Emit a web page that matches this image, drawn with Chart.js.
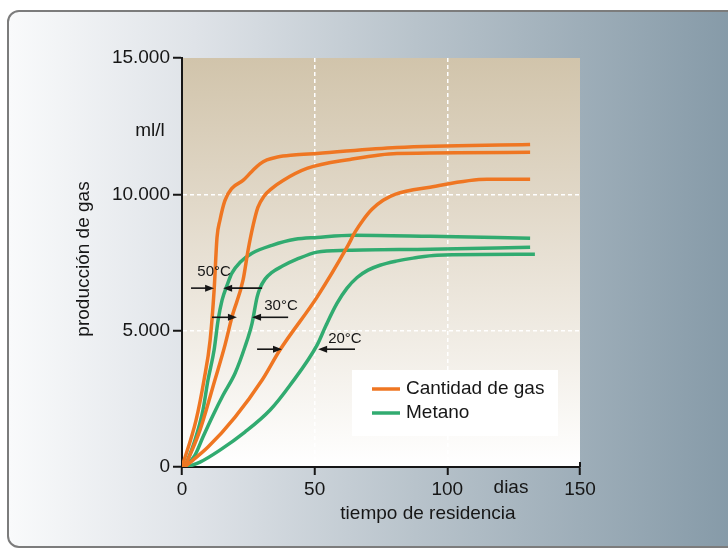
<!DOCTYPE html>
<html>
<head>
<meta charset="utf-8">
<script src="https://cdn.jsdelivr.net/npm/chart.js@4"></script>
<style>
  html, body { margin:0; padding:0; background:#fff; width:728px; height:550px; overflow:hidden }
  .frame { position:absolute; left:7px; top:10px; width:740px; height:534px; border:2px solid #7c7c7c; border-radius:12px;
           background:linear-gradient(to right, #f9fafb 0%, #dfe3e8 25%, #b8c3cb 55%, #8398a6 100%) }
  canvas { position:absolute; left:0; top:0 }
</style>
</head>
<body>
<div class="frame"></div>
<canvas id="chart" width="728" height="550"></canvas>
<script>
// gas production curves (days, ml/l)
const gas50Days = [0, 5.3, 8.3, 10.6, 12.1, 13.2, 14.3, 16.2, 18.8, 23, 26.4, 29.4, 32, 36, 42, 50.9, 81, 131.2];
const gas50     = [0, 1720, 3190, 4650, 6480, 8420, 9050, 9780, 10220, 10510, 10850, 11120, 11260, 11370, 11440, 11500, 11720, 11830];
const gas30Days = [1.1, 6.8, 12.4, 16.2, 18.8, 23, 24.9, 26.8, 28.6, 30.9, 33.9, 38.1, 47.1, 63.3, 81, 131.2];
const gas30     = [0, 1360, 3190, 4470, 5490, 6850, 7950, 8860, 9520, 9930, 10220, 10510, 10950, 11280, 11500, 11540];
const gas20Days = [1, 9.8, 20, 30.2, 36.9, 50.9, 62.2, 65.2, 68.2, 71.6, 75.8, 80.3, 93.5, 115, 131.2];
const gas20     = [0, 730, 1830, 3190, 4290, 6230, 8060, 8610, 9050, 9450, 9780, 10000, 10260, 10550, 10550];

// methane curves
const met50Days = [1.1, 4.9, 7.9, 9.8, 12.1, 13.6, 15.1, 17, 18.8, 21.9, 26.4, 33.9, 42.6, 50.9, 64.5, 93.5, 131.2];
const met50     = [0, 990, 2090, 3190, 4290, 5380, 6120, 6670, 7110, 7510, 7840, 8130, 8350, 8420, 8500, 8460, 8390];
const met30Days = [1.1, 4.9, 7.9, 11.7, 15.5, 20, 23.7, 26.4, 28.3, 29.4, 31.3, 33.9, 37.7, 43.3, 50.9, 62.2, 93.5, 131.2];
const met30     = [0, 440, 1100, 1900, 2640, 3440, 4400, 5270, 6230, 6560, 6890, 7140, 7360, 7620, 7880, 7950, 7990, 8060];
const met20Days = [1.9, 6.8, 14.3, 23.7, 33.2, 40.7, 50.9, 54.3, 58.4, 62.2, 66, 70.1, 74.6, 80.7, 87.1, 96.1, 133];
const met20     = [0, 180, 620, 1280, 2090, 3000, 4470, 5200, 6000, 6560, 6950, 7220, 7400, 7550, 7660, 7770, 7800];

const legendLabels = ['Cantidad de gas', 'Metano'];
const yTickValues = [0, 5000, 10000, 15000];
const yTickLabels = ['0', '5.000', '10.000', '15.000'];
const xTickValues = [0, 50, 100, 150];
const xTickLabels = ['0', '50', '100', '150'];

// temperature markers: label spot and the two arrows pointing at each pair
const tempLabels   = ['50°C', '30°C', '20°C'];
const labelDays    = [12.1, 37.3, 61.4];
const labelVals    = [7140, 5900, 4690];
const arrowVals    = [6560, 5490, 4320];
const arrowInFrom  = [3.4, 11.3, 28.3];
const arrowInTo    = [12.1, 20.7, 37.7];
const arrowOutFrom = [30.2, 40, 65.2];
const arrowOutTo   = [15.5, 26.4, 51.3];

const ORANGE = '#ef7622';
const GREEN = '#31ab70';
const FONT = "'Liberation Sans', Arial, sans-serif";
const INK = '#161616';

const curves = [
  [gas50Days, gas50, ORANGE], [gas30Days, gas30, ORANGE], [gas20Days, gas20, ORANGE],
  [met50Days, met50, GREEN], [met30Days, met30, GREEN], [met20Days, met20, GREEN]
];

const datasets = curves.map(([days, vals, color]) => ({
  data: days.map((d, i) => ({ x: d, y: vals[i] })),
  borderColor: color,
  borderWidth: 3.5,
  pointRadius: 0,
  cubicInterpolationMode: 'monotone',
  fill: false
}));

function arrow(ctx, x1, x2, y) {
  const dir = x2 > x1 ? 1 : -1;
  ctx.beginPath();
  ctx.moveTo(x1, y);
  ctx.lineTo(x2 - dir * 6, y);
  ctx.stroke();
  ctx.beginPath();
  ctx.moveTo(x2, y);
  ctx.lineTo(x2 - dir * 9, y - 3.5);
  ctx.lineTo(x2 - dir * 9, y + 3.5);
  ctx.closePath();
  ctx.fill();
}

const decor = {
  id: 'decor',
  beforeDraw(chart) {
    const { ctx, chartArea: a } = chart;
    const g = ctx.createLinearGradient(0, a.top, 0, a.bottom);
    g.addColorStop(0, '#d1c4ab');
    g.addColorStop(0.35, '#e1d8c8');
    g.addColorStop(1, '#ffffff');
    ctx.save();
    ctx.fillStyle = g;
    ctx.fillRect(a.left, a.top, a.right - a.left, a.bottom - a.top);
    ctx.restore();
  },
  afterDraw(chart) {
    const { ctx, chartArea: a, scales: { x, y } } = chart;
    ctx.save();
    ctx.fillStyle = INK;
    ctx.strokeStyle = INK;
    ctx.font = '19px ' + FONT;
    ctx.textAlign = 'center';
    ctx.textBaseline = 'middle';
    ctx.fillText('ml/l', 150, 131);
    ctx.fillText('dias', 511, 488);
    ctx.fillText('tiempo de residencia', 428, 514);
    ctx.save();
    ctx.translate(84, 259);
    ctx.rotate(-Math.PI / 2);
    ctx.fillText('producción de gas', 0, 0);
    ctx.restore();

    // small cross tick at the end of the x axis
    ctx.lineWidth = 2;
    ctx.beginPath();
    ctx.moveTo(x.getPixelForValue(150), a.bottom - 5);
    ctx.lineTo(x.getPixelForValue(150), a.bottom);
    ctx.stroke();

    // temperature arrows
    ctx.lineWidth = 1.6;
    ctx.font = '15px ' + FONT;
    tempLabels.forEach((t, i) => {
      const ay = y.getPixelForValue(arrowVals[i]);
      arrow(ctx, x.getPixelForValue(arrowInFrom[i]), x.getPixelForValue(arrowInTo[i]), ay);
      arrow(ctx, x.getPixelForValue(arrowOutFrom[i]), x.getPixelForValue(arrowOutTo[i]), ay);
      ctx.fillText(t, x.getPixelForValue(labelDays[i]), y.getPixelForValue(labelVals[i]));
    });

    // legend box
    ctx.fillStyle = '#ffffff';
    ctx.fillRect(352, 370, 206, 66);
    ctx.font = '19px ' + FONT;
    ctx.textAlign = 'left';
    [ORANGE, GREEN].forEach((c, i) => {
      const ly = 389 + i * 24;
      ctx.strokeStyle = c;
      ctx.lineWidth = 3.5;
      ctx.beginPath();
      ctx.moveTo(372, ly);
      ctx.lineTo(400, ly);
      ctx.stroke();
      ctx.fillStyle = INK;
      ctx.fillText(legendLabels[i], 406, ly);
    });
    ctx.restore();
  }
};

const gridColor = ctx => (ctx.tick && ctx.tick.value > 0 && ctx.tick.value < (ctx.scale.axis === 'x' ? 150 : 15000))
  ? '#ffffff' : 'rgba(0,0,0,0)';

new Chart(document.getElementById('chart'), {
  type: 'line',
  data: { datasets },
  options: {
    responsive: false,
    animation: false,
    layout: { padding: { left: 0, right: 148, top: 58, bottom: 0 } },
    plugins: { legend: { display: false }, tooltip: { enabled: false } },
    scales: {
      x: {
        type: 'linear',
        min: 0, max: 150,
        afterFit: s => { s.height = 83; },
        afterBuildTicks: s => { s.ticks = xTickValues.map(v => ({ value: v })); },
        ticks: {
          color: INK, padding: 3,
          font: { family: FONT, size: 19 },
          callback: v => xTickLabels[xTickValues.indexOf(v)]
        },
        grid: { color: gridColor, lineWidth: 1.5, tickColor: INK, tickLength: 8, tickWidth: 2 },
        border: { color: INK, width: 2, dash: [4, 3] }
      },
      y: {
        min: 0, max: 15000,
        afterFit: s => { s.width = 182; },
        afterBuildTicks: s => { s.ticks = yTickValues.map(v => ({ value: v })); },
        ticks: {
          color: INK, padding: 3,
          font: { family: FONT, size: 19 },
          callback: v => yTickLabels[yTickValues.indexOf(v)]
        },
        grid: { color: gridColor, lineWidth: 1.5, tickColor: INK, tickLength: 9, tickWidth: 2 },
        border: { color: INK, width: 2, dash: [4, 3] }
      }
    }
  },
  plugins: [decor]
});
</script>
</body>
</html>
